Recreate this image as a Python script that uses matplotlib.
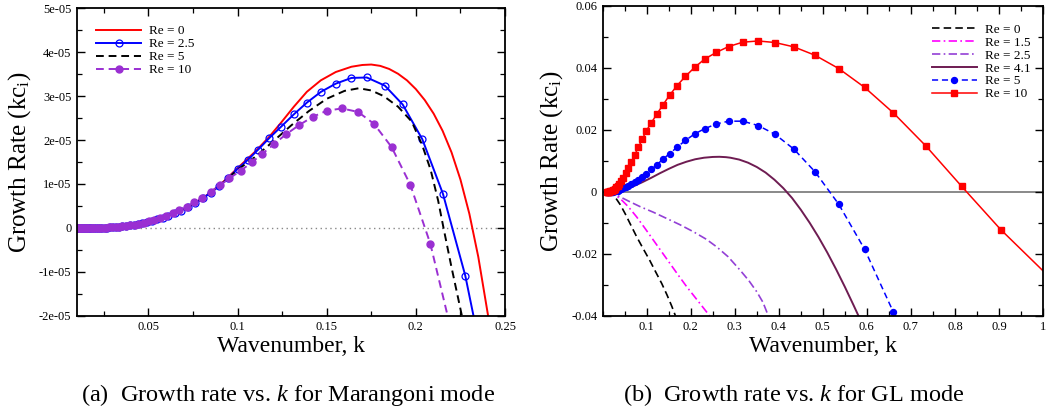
import matplotlib
matplotlib.use("Agg")
import matplotlib.pyplot as plt
from matplotlib.ticker import FixedLocator, MultipleLocator, FuncFormatter

plt.rcParams['font.family'] = ['Liberation Serif', 'DejaVu Serif']
plt.rcParams['mathtext.fontset'] = 'custom'
plt.rcParams['mathtext.rm'] = 'Liberation Serif'
plt.rcParams['mathtext.it'] = 'Liberation Serif:italic'

# ---------------- (a) Marangoni mode, values in units of 1e-5 ----------------
a_re0_k = [0.01, 0.02, 0.03, 0.04, 0.05, 0.06, 0.07, 0.08, 0.09, 0.10, 0.11,
           0.1177, 0.1245, 0.1316, 0.1389, 0.1467, 0.1551, 0.1639, 0.170, 0.175,
           0.180, 0.185, 0.190, 0.195, 0.200, 0.205, 0.210, 0.215, 0.220, 0.225,
           0.230, 0.235, 0.2405]
a_re0_g = [0.0, 0.01, 0.03, 0.08, 0.15, 0.27, 0.44, 0.66, 0.97, 1.36, 1.74,
           2.07, 2.40, 2.76, 3.10, 3.36, 3.55, 3.67, 3.71, 3.72,
           3.69, 3.62, 3.51, 3.36, 3.16, 2.91, 2.60, 2.21, 1.72, 1.10,
           0.32, -0.66, -2.0]

a_re25_k = [0.0100, 0.0106, 0.0112, 0.0118, 0.0125, 0.0132, 0.0140, 0.0148, 0.0156,
            0.0165, 0.0174, 0.0184, 0.0194, 0.0205, 0.0217, 0.0229, 0.0242, 0.0256,
            0.0270, 0.0285, 0.0301, 0.0318, 0.0336, 0.0355, 0.0375, 0.0396, 0.0418,
            0.0441, 0.0466, 0.0492, 0.0520, 0.0549, 0.0580, 0.0612, 0.0647, 0.0683,
            0.0721, 0.0762, 0.0804, 0.0849, 0.0897, 0.0947, 0.1000, 0.1058, 0.1116,
            0.1177, 0.1245, 0.1316, 0.1389, 0.1467, 0.1551, 0.1639, 0.1725, 0.1826,
            0.1926, 0.2036, 0.2152, 0.2277, 0.2323]
a_re25_g = [0.0, 0.0, 0.0, 0.0, 0.0, 0.0, 0.0, 0.0001, 0.0002,
            0.0003, 0.0005, 0.0007, 0.001, 0.0014, 0.002, 0.003, 0.004, 0.006,
            0.008, 0.011, 0.015, 0.020, 0.026, 0.034, 0.043, 0.054, 0.068,
            0.085, 0.105, 0.13, 0.16, 0.195, 0.235, 0.28, 0.33, 0.39,
            0.47, 0.56, 0.67, 0.80, 0.95, 1.13, 1.343, 1.548, 1.783,
            2.041, 2.307, 2.587, 2.853, 3.096, 3.285, 3.415, 3.425, 3.24,
            2.81, 2.02, 0.774, -1.086, -2.0]

a_re5_k = [0.01, 0.02, 0.03, 0.04, 0.05, 0.06, 0.07, 0.08, 0.09, 0.10, 0.11, 0.12,
           0.13, 0.14, 0.15, 0.16, 0.168, 0.175, 0.182, 0.19, 0.1977, 0.2036,
           0.2083, 0.2125, 0.2155, 0.2199, 0.2258]
a_re5_g = [0.0, 0.01, 0.03, 0.08, 0.15, 0.27, 0.44, 0.66, 0.96, 1.32, 1.62, 1.97,
           2.33, 2.66, 2.94, 3.12, 3.18, 3.13, 3.0, 2.76, 2.42, 1.88,
           1.32, 0.62, 0.0, -0.88, -2.0]

a_re10_k = [0.0104, 0.0110, 0.0117, 0.0124, 0.0132, 0.0140, 0.0148, 0.0157, 0.0166,
            0.0176, 0.0187, 0.0198, 0.0210, 0.0223, 0.0236, 0.0250, 0.0265, 0.0281,
            0.0298, 0.0316, 0.0335, 0.0355, 0.0376, 0.0399, 0.0423, 0.0448, 0.0475,
            0.0504, 0.0534, 0.0566, 0.0600, 0.0636, 0.0674, 0.0714, 0.0757, 0.0802,
            0.0850, 0.0901, 0.0955, 0.1017, 0.1079, 0.1140, 0.1205, 0.1272, 0.1345,
            0.1422, 0.1502, 0.1586, 0.1676, 0.1765, 0.1864, 0.1969, 0.2081, 0.2178]
a_re10_g = [0.0, 0.0, 0.0, 0.0, 0.0, 0.0, 0.0, 0.0001, 0.0002,
            0.0004, 0.0007, 0.0011, 0.0017, 0.0025, 0.0035, 0.005, 0.007, 0.010,
            0.014, 0.019, 0.025, 0.033, 0.043, 0.055, 0.07, 0.09, 0.115,
            0.145, 0.18, 0.22, 0.27, 0.33, 0.40, 0.48, 0.58, 0.69,
            0.82, 0.97, 1.13, 1.30, 1.49, 1.69, 1.91, 2.13, 2.34,
            2.53, 2.67, 2.72, 2.64, 2.37, 1.84, 0.98, -0.36, -2.0]

# ---------------- (b) GL mode ----------------
b_re0_k = [0.01, 0.02, 0.03, 0.04, 0.0507, 0.064, 0.077, 0.092, 0.107, 0.12, 0.134,
           0.146, 0.157, 0.165]
b_re0_g = [0.0, -0.0005, -0.0021, -0.0042, -0.0070, -0.0108, -0.0145, -0.0184, -0.0222,
           -0.0258, -0.0296, -0.0333, -0.0370, -0.0400]

b_re15_k = [0.01, 0.02, 0.039, 0.058, 0.077, 0.096, 0.115, 0.134, 0.153, 0.172, 0.191,
            0.206, 0.221, 0.2437]
b_re15_g = [0.0, -0.0003, -0.0021, -0.0048, -0.0081, -0.0118, -0.0156, -0.0194, -0.0232,
            -0.0270, -0.0307, -0.0334, -0.0361, -0.0402]

b_re25_k = [0.01, 0.02, 0.039, 0.06, 0.085, 0.115, 0.145, 0.175, 0.206, 0.235, 0.259,
            0.285, 0.312, 0.332, 0.350, 0.364, 0.376]
b_re25_g = [0.0, -0.0003, -0.0016, -0.0031, -0.0048, -0.0066, -0.0086, -0.0106, -0.0129,
            -0.0153, -0.0178, -0.0210, -0.0253, -0.0287, -0.0323, -0.0357, -0.0400]

b_re41_k = [0.01, 0.03, 0.05, 0.07, 0.09, 0.11, 0.13, 0.15, 0.17, 0.19, 0.21, 0.23,
            0.25, 0.265, 0.28, 0.29, 0.31, 0.33, 0.35, 0.37, 0.39, 0.41, 0.43, 0.45,
            0.47, 0.49, 0.51, 0.53, 0.55, 0.57, 0.585]
b_re41_g = [0.0, 0.0002, 0.0008, 0.0018, 0.0031, 0.0045, 0.0060, 0.0074, 0.0087, 0.0097,
            0.0105, 0.0110, 0.01125, 0.0113, 0.01118, 0.0110, 0.0104, 0.0094, 0.0080,
            0.0062, 0.0039, 0.0012, -0.0020, -0.0058, -0.0100, -0.0146, -0.0196,
            -0.0250, -0.0307, -0.0367, -0.0413]

b_k = [0.010, 0.011, 0.012, 0.013, 0.015, 0.016, 0.018, 0.020, 0.023, 0.025, 0.028,
       0.031, 0.034, 0.038, 0.042, 0.047, 0.052, 0.058, 0.065, 0.073, 0.081, 0.090,
       0.099, 0.110, 0.123, 0.137, 0.152, 0.169, 0.188, 0.209, 0.232, 0.258, 0.286,
       0.318, 0.353, 0.391, 0.434, 0.482, 0.536, 0.595, 0.660, 0.734, 0.815, 0.904]
b_re5_g = [0.0, 0.0, 0.0, 0.0, 0.0, 0.0, 0.00002, 0.00004, 0.00008, 0.00012, 0.0002,
           0.0003, 0.0004, 0.0006, 0.0008, 0.0011, 0.0015, 0.0019, 0.0025, 0.0031, 0.0038,
           0.0047, 0.0057, 0.0072, 0.0087, 0.0106, 0.0123, 0.0144, 0.0166, 0.0187, 0.0204,
           0.0219, 0.0228, 0.0228, 0.0214, 0.0186, 0.0138, 0.0065, -0.0040, -0.0186, -0.0388]
b_re10_g = [0.0, 0.0, 0.0, 0.0, 0.00005, 0.0001, 0.0002, 0.0003, 0.0005, 0.0007, 0.0010,
            0.0014, 0.0019, 0.0026, 0.0035, 0.0046, 0.0060, 0.0077, 0.0097, 0.0120, 0.0144,
            0.0170, 0.0197, 0.0222, 0.0251, 0.0281, 0.0312, 0.0343, 0.0373, 0.0402, 0.0429,
            0.0450, 0.0469, 0.0483, 0.0487, 0.0482, 0.0468, 0.0441, 0.0398, 0.0337, 0.0255,
            0.0148, 0.0018, -0.0122]
b_re5_end = (0.666, -0.0406)
b_re10_end = (1.0, -0.0255)

fig = plt.figure(figsize=(10.55, 4.17), dpi=100)
axa = fig.add_axes([0.0730, 0.2430, 0.4057, 0.7370])
axb = fig.add_axes([0.5713, 0.2430, 0.4173, 0.7427])


def style_axes(ax):
    for s in ax.spines.values():
        s.set_linewidth(1.3)
    ax.tick_params(which='both', direction='in', top=True, right=True, labelsize=9)
    ax.tick_params(which='major', length=6, width=1.0, pad=4)
    ax.tick_params(which='minor', length=3.5, width=0.9)
    ax.set_ylabel('Growth Rate (kc$_\\mathregular{i}$)', fontsize=18, labelpad=4)
    ax.set_xlabel('Wavenumber, k', fontsize=17, labelpad=2)


# (a)
e5 = 1e-5
axa.axhline(0, color='#888888', lw=1.0, ls=(0, (1, 2.5)), zorder=1)
axa.plot(a_re0_k, [v * e5 for v in a_re0_g], color='red', lw=1.4, label='Re = 0')
axa.plot(a_re25_k, [v * e5 for v in a_re25_g], color='blue', lw=1.4, marker='o', ms=5,
         mfc='none', mew=0.9, markevery=slice(0, -1), label='Re = 2.5')
axa.plot(a_re5_k, [v * e5 for v in a_re5_g], color='black', lw=1.4, ls=(0, (4, 2.5)),
         label='Re = 5')
axa.plot(a_re10_k, [v * e5 for v in a_re10_g], color='#9a2fd2', lw=1.4, ls=(0, (4, 2.5)),
         marker='o', ms=5, markevery=slice(0, -1), label='Re = 10')
axa.set_xlim(0.01, 0.25)
axa.set_ylim(-2e-5, 5e-5)
axa.xaxis.set_major_locator(FixedLocator([0.05, 0.1, 0.15, 0.2, 0.25]))
axa.xaxis.set_minor_locator(MultipleLocator(0.025))
axa.yaxis.set_major_locator(MultipleLocator(1e-5))
axa.yaxis.set_minor_locator(MultipleLocator(5e-6))
axa.xaxis.set_major_formatter(FuncFormatter(lambda v, p: '%g' % round(v, 3)))
axa.yaxis.set_major_formatter(FuncFormatter(lambda v, p: '0' if abs(v) < 1e-9 else '%.0e' % v))
style_axes(axa)
axa.legend(loc='upper left', bbox_to_anchor=(0.045, 0.945), frameon=False, fontsize=9.5,
           handlelength=3.4, handletextpad=0.6, labelspacing=0.05, borderpad=0, borderaxespad=0)

# (b)
axb.axhline(0, color='#808080', lw=1.3, zorder=1)
axb.plot(b_re0_k, b_re0_g, color='black', lw=1.2, ls=(0, (4.5, 2.5)), label='Re = 0')
axb.plot(b_re15_k, b_re15_g, color='#ff00ff', lw=1.2, ls=(0, (5, 2, 1, 2)), label='Re = 1.5')
axb.plot(b_re25_k, b_re25_g, color='#9340d6', lw=1.2, ls=(0, (5, 2, 1, 2, 5, 2)),
         label='Re = 2.5')
axb.plot(b_re41_k, b_re41_g, color='#6e1c52', lw=1.4, label='Re = 4.1')
axb.plot(b_k[:len(b_re5_g)] + [b_re5_end[0]], b_re5_g + [b_re5_end[1]], color='blue', lw=1.1,
         ls=(0, (4, 2.5)), marker='o', ms=4.3, markevery=slice(0, -1), label='Re = 5')
axb.plot(b_k + [b_re10_end[0]], b_re10_g + [b_re10_end[1]], color='red', lw=1.1,
         marker='s', ms=3.8, markevery=slice(0, -1), label='Re = 10')
axb.set_xlim(0, 1)
axb.set_ylim(-0.04, 0.06)
axb.xaxis.set_major_locator(FixedLocator([0.1, 0.2, 0.3, 0.4, 0.5, 0.6, 0.7, 0.8, 0.9, 1.0]))
axb.xaxis.set_minor_locator(MultipleLocator(0.05))
axb.yaxis.set_major_locator(MultipleLocator(0.02))
axb.yaxis.set_minor_locator(MultipleLocator(0.01))
axb.xaxis.set_major_formatter(FuncFormatter(lambda v, p: '%g' % round(v, 2)))
axb.yaxis.set_major_formatter(FuncFormatter(lambda v, p: '0' if abs(v) < 1e-9 else '%.2f' % v))
style_axes(axb)
axb.legend(loc='upper left', bbox_to_anchor=(0.748, 0.943), frameon=False, fontsize=9.5,
           handlelength=3.4, handletextpad=0.6, labelspacing=0.05, borderpad=0, borderaxespad=0)

fig.text(0.273, 0.053, '(a)  Growth rate vs. $k$ for Marangoni mode', ha='center',
         va='center', fontsize=17.5)
fig.text(0.752, 0.053, '(b)  Growth rate vs. $k$ for GL mode', ha='center',
         va='center', fontsize=17.5)

fig.savefig('out.png', dpi=100)
